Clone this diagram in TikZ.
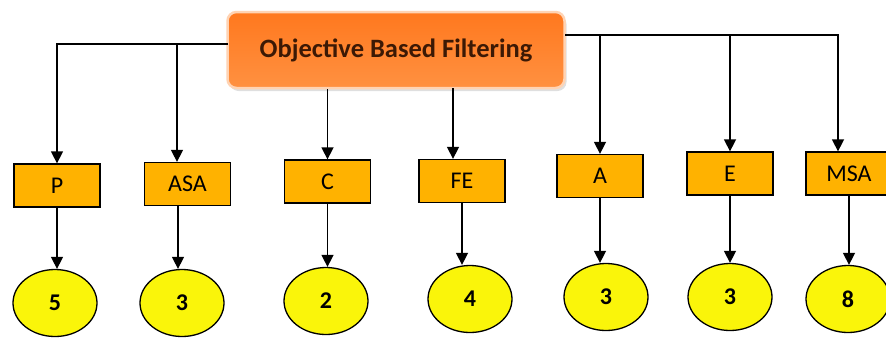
\documentclass[tikz,border=0pt]{standalone}
\usepackage{fontspec}
\setmainfont{Carlito}
\usetikzlibrary{arrows.meta,shapes.geometric,shadows}
\definecolor{titleorange}{RGB}{255,120,30}
\definecolor{titlelight}{RGB}{255,145,65}
\definecolor{boxorange}{RGB}{255,178,0}
\definecolor{ovalyellow}{RGB}{250,245,10}
\definecolor{titletext}{RGB}{60,25,5}
\tikzset{
	arr/.style={-{Triangle[width=12pt,length=12pt]}, line width=1.5pt},
	cat/.style={draw, line width=1.3pt, fill=boxorange, minimum width=86pt, minimum height=43pt, inner sep=0pt, font=\fontsize{24}{28}\selectfont},
	num/.style={ellipse, draw, line width=1.3pt, fill=ovalyellow, minimum width=84pt, minimum height=67pt, inner sep=0pt, font=\bfseries\fontsize{24}{28}\selectfont}
}

\begin{document}
\begin{tikzpicture}[x=1pt,y=-1pt]
	\useasboundingbox (0,0) rectangle (886,338);
	\node[rounded corners=9pt, draw=titlelight!40, line width=2.5pt, top color=titleorange, bottom color=titlelight, drop shadow={opacity=0.25, shadow xshift=2pt, shadow yshift=-3pt}, minimum width=337pt, minimum height=76pt, text=titletext, font=\bfseries\fontsize{26.5}{30}\selectfont] (obf) at (396,50) {Objective Based Filtering};
	
	\node[cat] (p) at (57,185.5) {P};
	\node[cat] (asa) at (187.5,184) {ASA};
	\node[cat] (c) at (327.5,181.5) {C};
	\node[cat] (fe) at (462,181) {FE};
	\node[cat] (a) at (600,176) {A};
	\node[cat] (e) at (730,173.5) {E};
	\node[cat] (msa) at (849,173.5) {MSA};
	
	\node[num] (n5) at (55,303) {5};
	\node[num] (n3a) at (182,303) {3};
	\node[num] (n2) at (326,301) {2};
	\node[num] (n4) at (470,299) {4};
	\node[num] (n3b) at (606,297) {3};
	\node[num] (n3c) at (730,297) {3};
	\node[num] (n8) at (848,299) {8};
	
	% branch points on the two feeder lines
	\coordinate (lft) at (228,44);
	\coordinate (rgt) at (565,35);
	\coordinate (asaIn) at (177,44);
	\coordinate (feIn) at (453,88);
	\coordinate (msaIn) at (838,35);
	\coordinate (asaOut) at (178,206);
	
	\draw[arr] (lft) -| (p.north);
	\draw[arr] (asaIn) -- (asaIn |- asa.north);
	\draw[arr] (c.north |- obf.south) -- (c.north);
	\draw[arr] (feIn) -- (feIn |- fe.north);
	\draw[arr] (rgt) -- (msaIn) -- (msaIn |- msa.north);
	\draw[arr] (a.north |- rgt) -- (a.north);
	\draw[arr] (e.north |- rgt) -- (e.north);
	
	\draw[arr] (p.south) -- (p.south |- n5.north);
	\draw[arr] (asaOut) -- (asaOut |- n3a.north);
	\draw[arr] (c.south) -- (c.south |- n2.north);
	\draw[arr] (fe.south) -- (fe.south |- n4.north);
	\draw[arr] (a.south) -- (a.south |- n3b.north);
	\draw[arr] (e.south) -- (e.south |- n3c.north);
	\draw[arr] (msa.south) -- (msa.south |- n8.north);
\end{tikzpicture}
\end{document}
